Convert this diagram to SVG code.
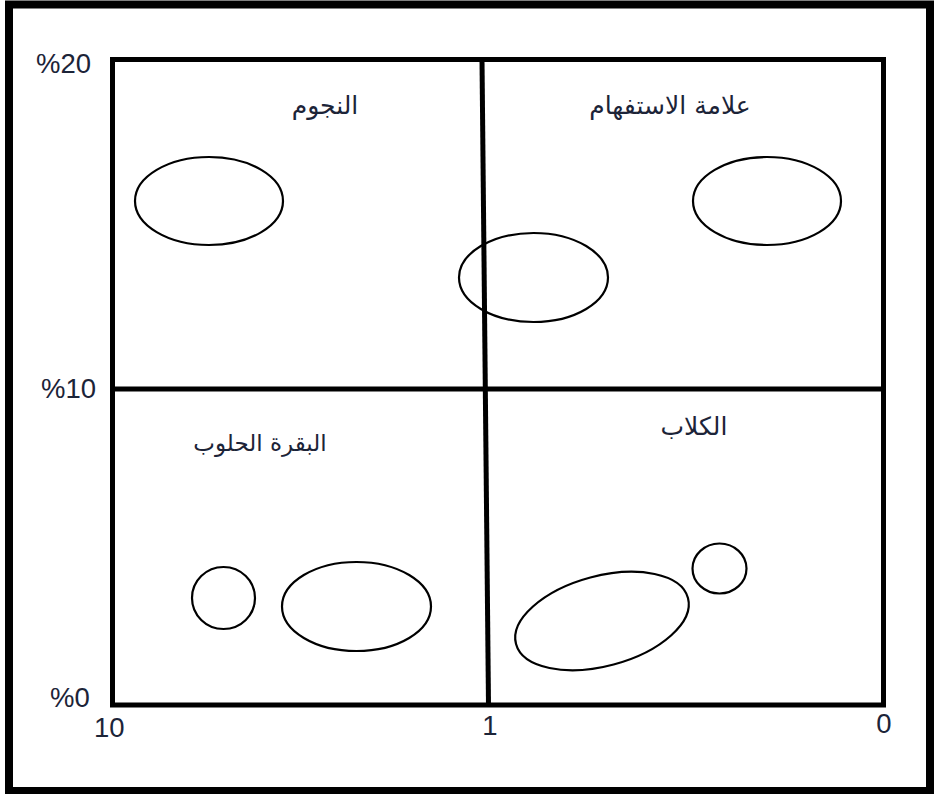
<svg xmlns="http://www.w3.org/2000/svg" width="936" height="794" viewBox="0 0 936 794">
<style>
.frame{fill:none;stroke:#000;stroke-width:8}
.box{fill:none;stroke:#000;stroke-width:5}
.div{stroke:#000;stroke-width:5;fill:none}
.shape{fill:none;stroke:#000;stroke-width:2.2}
.ax{font-family:"Liberation Sans",Arial,sans-serif;font-size:27.5px;fill:#1c2438}
.ar{font-family:"DejaVu Sans","Noto Sans",sans-serif;font-size:25px;fill:#1c2438;direction:rtl;unicode-bidi:embed}
</style>
<rect width="936" height="794" fill="#fff"/>
<rect class="frame" x="9" y="4.5" width="921" height="786.5"/>
<g id="chart">
<rect class="box" x="112.5" y="59.5" width="771" height="645.5"/>
</g>
<g id="connectors">
<line class="div" x1="482" y1="60" x2="488.5" y2="705"/>
<line class="div" x1="112.5" y1="389" x2="883.5" y2="389"/>
</g>
<g id="axis-labels">
<text class="ax" x="36" y="73">%20</text>
<text class="ax" x="41" y="398">%10</text>
<text class="ax" x="50" y="707">%0</text>
<text class="ax" x="94" y="737">10</text>
<text class="ax" x="490" y="735" text-anchor="middle">1</text>
<text class="ax" x="884" y="733" text-anchor="middle">0</text>
</g>
<g id="stars">
<text class="ar" x="325" y="114" text-anchor="middle">النجوم</text>
<ellipse class="shape" cx="209" cy="201" rx="74" ry="44"/>
</g>
<g id="question-marks">
<text class="ar" x="670" y="114" text-anchor="middle">علامة الاستفهام</text>
<ellipse class="shape" cx="767" cy="201" rx="74" ry="44"/>
</g>
<g id="middle">
<ellipse class="shape" cx="533.5" cy="277.5" rx="74.5" ry="44.5"/>
</g>
<g id="cash-cows">
<text class="ar" x="260" y="451" text-anchor="middle" style="font-size:23px">البقرة الحلوب</text>
<ellipse class="shape" cx="223.5" cy="598" rx="31.5" ry="31"/>
<ellipse class="shape" cx="356.5" cy="606.5" rx="74.5" ry="44.5"/>
</g>
<g id="dogs">
<text class="ar" x="694" y="435" text-anchor="middle">الكلاب</text>
<ellipse class="shape" cx="602" cy="621" rx="89" ry="45" transform="rotate(-15 602 621)"/>
<ellipse class="shape" cx="719.5" cy="568.5" rx="27" ry="25"/>
</g>
</svg>
